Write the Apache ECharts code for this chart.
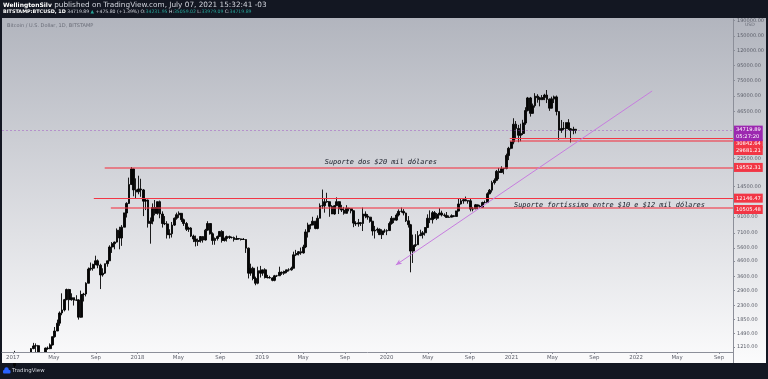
<!DOCTYPE html>
<html><head><meta charset="utf-8">
<script src="https://cdn.jsdelivr.net/npm/echarts@6/dist/echarts.min.js"></script>
<style>html,body{margin:0;padding:0;background:#131722;overflow:hidden}#c{width:768px;height:379px}</style>
</head><body><div id="c"></div>
<script>
// ---- DATA (weekly OHLC, BITSTAMP BTCUSD) ----
const firstWeekCenter = '2017-01-05';
const opens = [
// 2017
1017,908,820,920,915,1010,1000,1055,1180,1230,1235,970,960,1080,1190,1180,1250,1420,1550,1750,2050,2150,2520,2950,2520,2600,2500,2510,1920,2730,2750,3250,4050,4100,4350,4600,4300,3700,3800,4400,4600,5700,6000,6150,7400,6550,7750,9650,11200,15000,19100,13800,
// 2018
13400,14000,13800,11600,11800,8200,8500,10500,9600,11500,9500,8200,8150,6900,7000,8000,8900,9400,9600,8700,8200,7500,7650,6750,6450,6200,6300,6700,6350,7400,8200,7000,6300,6500,6700,7250,6300,6500,6700,6600,6600,6400,6500,6450,6400,6400,5600,3800,4100,3500,3250,3950,3800,
// 2019
4000,3550,3550,3530,3400,3650,3650,3850,3800,3900,4000,4000,4100,5050,5150,5300,5200,5700,7200,8000,8000,8500,7600,8900,10800,10800,11500,11500,10700,9500,10800,11500,10300,10100,9600,10400,10300,10000,8250,8150,8300,8200,9500,9200,9050,8500,7300,7400,7500,6900,7300,7300,
// 2020
7350,8200,8900,8650,9350,9900,9900,9650,8550,8050,5350,5850,5900,6800,6900,7100,7700,8900,8700,9700,8900,9450,9650,9350,9300,9000,9050,9250,9150,9950,11100,11650,11850,11650,11650,10250,10300,10950,10700,10550,11350,11350,13000,13750,15450,16000,18400,18100,19150,19250,23500,26300,
// 2021
29000,38200,35800,32200,33100,38900,47200,57400,45200,50900,59000,57600,55900,57700,60000,56200,49000,56600,58300,46500,34700,35700,35800,39100,35600,34700,35300
];
const highs = [
1140,920,920,930,1030,1070,1060,1190,1290,1280,1250,1110,1110,1200,1220,1280,1420,1650,1850,2100,2780,2550,2990,2980,2780,2600,2700,2540,2900,2800,3300,4150,4480,4400,4980,4700,4400,4100,4400,4600,5850,6150,6200,7600,7800,8000,9700,11400,16700,19666,19200,16500,
17200,16400,14000,12100,11900,9000,11200,11800,11500,11700,9900,9200,8500,7500,8400,9000,9700,9900,9600,8850,8400,7800,7750,6900,6800,6500,6750,6750,7550,8500,8250,7150,6600,6800,7300,7400,6600,6800,6800,6700,6700,6800,6550,6500,6550,6450,5650,4400,4200,3600,4200,4250,4000,
4100,3700,3650,3560,3700,3700,4200,3900,3950,4000,4100,4200,5300,5450,5350,5650,5900,7500,8300,8150,9100,8500,9300,11200,13880,12000,13200,11500,10900,10900,12300,11600,10950,10600,10900,10400,10350,10050,8500,8800,8400,10500,9900,9500,9100,8500,7900,7700,7600,7500,7550,7500,
8450,9200,8950,9600,10200,10500,10250,9700,9200,8150,6900,6950,7300,7450,7300,7750,9450,10050,9950,9950,9650,10400,10000,9600,9800,9300,9450,9300,10000,12000,12100,12100,12450,11750,12100,10600,11100,10950,10950,11500,11700,13300,14000,15900,16500,18800,19400,19900,19400,24200,26900,29300,
41900,40100,37800,38500,40900,49700,58300,58300,52600,61800,60800,58400,60000,61200,64900,57000,58500,59500,59600,46700,40800,39500,39300,41300,36000,36700,35300
];
const lows = [
850,750,810,880,910,940,990,1040,1170,980,960,890,920,1070,1160,1170,1240,1400,1550,1680,1980,2100,2500,2130,2480,2300,2480,1850,1900,2450,2650,3250,3950,3950,4300,4100,2970,3600,3750,4200,4600,5200,5500,6100,5500,5800,7750,9000,11100,15000,12500,12000,
12900,12400,9200,10100,7700,6000,8100,9300,9400,8900,7700,8000,6500,6500,6600,7900,8700,8950,8400,7900,7300,7200,6650,6150,5750,5800,6100,6100,6300,7350,6900,5900,5900,6300,6700,6100,6200,6200,6450,6500,6200,6350,6400,6300,6350,5200,3500,3650,3400,3150,3200,3550,3650,
3500,3500,3500,3350,3350,3580,3650,3700,3700,3800,3900,3950,4100,4950,5000,5050,5150,5600,6600,7500,8000,7500,7500,8900,10300,9700,11300,9100,9500,9400,10800,9500,9800,9400,9600,9900,9600,7750,7900,7800,7900,7300,8900,8700,8300,6800,6500,7100,6900,6450,7100,6850,
7400,8050,8250,8550,9150,9700,9300,8400,7700,3850,4450,5700,5900,6750,6500,6800,7650,8250,8200,8800,8650,9300,9150,9100,9000,8950,9050,9050,9100,9900,11000,11150,11600,11150,9900,9900,10250,10150,10400,10550,11200,11450,12900,13250,15000,15800,16300,18000,17600,19000,21900,25900,
28000,30300,28900,29300,32300,37800,46600,43000,45000,49400,53300,50400,55500,55500,53000,47000,48800,53000,43800,30000,33400,34900,31000,34900,28800,32700,33100
];
const closes = [
908,820,920,915,1010,1000,1055,1180,1230,1235,970,960,1080,1190,1180,1250,1420,1550,1750,2050,2150,2520,2950,2520,2600,2500,2510,1920,2730,2750,3250,4050,4100,4350,4600,4300,3700,3800,4400,4600,5700,6000,6150,7400,6550,7750,9650,11200,15000,19100,13800,13400,
14000,13800,11600,11800,8200,8500,10500,9600,11500,9500,8200,8150,6900,7000,8000,8900,9400,9600,8700,8200,7500,7650,6750,6450,6200,6300,6700,6350,7400,8200,7000,6300,6500,6700,7250,6300,6500,6700,6600,6600,6400,6500,6450,6400,6400,5600,3800,4100,3500,3250,3950,3800,4000,
3550,3550,3530,3400,3650,3650,3850,3800,3900,4000,4000,4100,5050,5150,5300,5200,5700,7200,8000,8000,8500,7600,8900,10800,10800,11500,11500,10700,9500,10800,11500,10300,10100,9600,10400,10300,10000,8250,8150,8300,8200,9500,9200,9050,8500,7300,7400,7500,6900,7300,7300,7350,
8200,8900,8650,9350,9900,9900,9650,8550,8050,5350,5850,5900,6800,6900,7100,7700,8900,8700,9700,8900,9450,9650,9350,9300,9000,9050,9250,9150,9950,11100,11650,11850,11650,11650,10250,10300,10950,10700,10550,11350,11350,13000,13750,15450,16000,18400,18100,19150,19250,23500,26300,29000,
38200,35800,32200,33100,38900,47200,57400,45200,50900,59000,57600,55900,57700,60000,56200,49000,56600,58300,46500,34700,35700,35800,39100,35600,34700,35300,34719.89
];

// axis ticks
const xTickDates  = ['2017-01-01','2017-05-01','2017-09-01','2018-01-01','2018-05-01','2018-09-01','2019-01-01','2019-05-01','2019-09-01','2020-01-01','2020-05-01','2020-09-01','2021-01-01','2021-05-01','2021-09-01','2022-01-01','2022-05-01','2022-09-01'];
const xTickLabels = ['2017','May','Sep','2018','May','Sep','2019','May','Sep','2020','May','Sep','2021','May','Sep','2022','May','Sep'];
const yTickValues = [190000,150000,120000,95000,75000,59000,46500,22500,14500,9100,7100,5600,4600,3600,2900,2300,1850,1490,1210];
const xRange = ['2016-11-30','2022-10-12'];
const yRange = [1120, 195000];

// drawings
const levelPrices = [19552.31, 12146.47, 10505.48, 30842.64, 29681.21];
const levelStarts = ['2017-09-27','2017-08-26','2017-10-15','2020-12-27','2020-12-27'];
const lastPrice = 34719.89;
const countdown = '05:27:20';
const trendDates = ['2020-01-28','2022-02-17'];
const trendPrices = [4312, 63900];
const noteTexts = ['Suporte dos $20 mil dólares','Suporte fortíssimo entre $10 e $12 mil dólares'];
const noteDates = ['2019-12-15','2021-10-15'];
const notePrices = [21300, 10950];

// ---- BUILD ----
const DAY = 86400000;
const t = s => Date.parse(s + 'T00:00:00Z');
const candles = opens.map((o, i) => [t(firstWeekCenter) + i * 7 * DAY, o, closes[i], lows[i], highs[i]]);
const xMin = t(xRange[0]), xMax = t(xRange[1]);
const xTickTimes = xTickDates.map(t);

const levelStyles = [
  {color:'rgba(242,54,69,0.55)', width:2, off:0},
  {color:'#f23645', width:1.2, off:0},
  {color:'rgba(242,54,69,0.55)', width:2, off:2},
  {color:'#f23645', width:1, off:6},
  {color:'rgba(242,54,69,0.55)', width:2, off:10}
];
const tagLabel = (txt, bg, off) => ({show:true, position:'end', distance:1, formatter:txt, color:'#fff', backgroundColor:bg,
  padding:[1.5,2,1,2], fontSize:5.2, fontFamily:'DejaVu Sans', lineHeight:6.5, offset:[0, off]});

const markLines = levelPrices.map((p, i) => ([
  {coord:[t(levelStarts[i]), p], lineStyle:{color:levelStyles[i].color, width:levelStyles[i].width, type:'solid'},
   label: tagLabel(p.toFixed(2), '#f23645', levelStyles[i].off)},
  {coord:[xMax, p]}
]));
markLines.push([
  {coord:[xMin, lastPrice], lineStyle:{color:'rgba(150,60,190,0.4)', width:1, type:[2,2]},
   label: tagLabel(lastPrice.toFixed(2) + '\n' + countdown, '#9c27b0', 3)},
  {coord:[xMax, lastPrice]}
]);
markLines.push([
  {coord:[t(trendDates[0]), trendPrices[0]], symbol:'arrow', symbolSize:[4,6], lineStyle:{color:'#c77ddf', width:1, type:'solid'}, label:{show:false}},
  {coord:[t(trendDates[1]), trendPrices[1]], symbol:'none'}
]);

const chart = echarts.init(document.getElementById('c'), null, {renderer:'canvas'});
chart.setOption({
  animation:false,
  backgroundColor:'#131722',
  grid:{left:2, right:35, top:19, bottom:27},
  xAxis:{type:'value', min:xMin, max:xMax, scale:true, z:10,
    axisLine:{show:true, lineStyle:{color:'#8c8f99', width:1}},
    axisTick:{show:true, customValues:xTickTimes, length:2, lineStyle:{color:'#8c8f99'}},
    axisLabel:{customValues:xTickTimes, fontSize:5.4, color:'#5d606b', fontFamily:'DejaVu Sans', margin:3,
      formatter: v => { const k = xTickTimes.indexOf(v); return k >= 0 ? xTickLabels[k] : ''; }},
    splitLine:{show:false}},
  yAxis:{type:'log', logBase:10, position:'right', min:yRange[0], max:yRange[1], z:10,
    axisLine:{show:true, lineStyle:{color:'#8c8f99', width:1}},
    axisTick:{show:true, customValues:yTickValues, length:2, lineStyle:{color:'#8c8f99'}},
    axisLabel:{customValues:yTickValues, fontSize:5, color:'#5d606b', fontFamily:'DejaVu Sans', margin:4,
      formatter: v => Number(v).toFixed(2)},
    splitLine:{show:false}},
  series:[
    {type:'candlestick', data:candles, barWidth:2.3, clip:true,
     itemStyle:{color:'#050505', color0:'#050505', borderColor:'#050505', borderColor0:'#050505', borderWidth:0.9}},
    {type:'line', data:[], clip:false, silent:true,
     markLine:{silent:true, symbol:['none','none'], animation:false, data:markLines},
     markPoint:{silent:true, symbol:'rect', symbolSize:1, itemStyle:{color:'rgba(0,0,0,0)'},
       data: noteTexts.map((s, i) => ({coord:[t(noteDates[i]), notePrices[i]],
         label:{show:true, position:'inside', formatter:s, color:'#131722', fontStyle:'italic',
           fontFamily:'DejaVu Sans Mono', fontSize:6.9}}))}}
  ],
  graphic:[
    {type:'rect', z:-10, silent:true, shape:{x:2, y:18, width:764, height:345},
     style:{fill:new echarts.graphic.LinearGradient(0,0,0,1,[{offset:0,color:'#b2b5be'},{offset:1,color:'#fbfbfc'}])}},
    {type:'rect', z:5, silent:true, shape:{x:2, y:352.5, width:731, height:10.5}, style:{fill:'#f9f9fa'}},
    {type:'line', z:11, shape:{x1:733.5, y1:352, x2:733.5, y2:363}, style:{stroke:'#8c8f99', lineWidth:1}},
    {type:'text', z:10, x:3, y:1.5, style:{text:'{b|WellingtonSilv} published on TradingView.com, July 07, 2021 15:32:41 -03',
      fill:'#d1d4dc', font:'7.3px "DejaVu Sans"', rich:{b:{fontWeight:'bold', fill:'#ffffff', fontSize:6, fontFamily:'DejaVu Sans'}}}},
    {type:'text', z:10, x:3, y:9.5, style:{text:'{b|BITSTAMP:BTCUSD, 1D} 34719.89 {g|▲} +475.80 (+1.39%) O:{g|34231.95} H:{g|35059.02} L:{g|33979.09} C:{g|34719.89}',
      fill:'#d1d4dc', font:'4.6px "DejaVu Sans"', rich:{b:{fontWeight:'bold', fill:'#ffffff', fontSize:4.9, fontFamily:'DejaVu Sans'}, g:{fill:'#26a69a', fontSize:4.6, fontFamily:'DejaVu Sans'}}}},
    {type:'text', z:10, x:7, y:23, style:{text:'Bitcoin / U.S. Dollar, 1D, BITSTAMP', fill:'#6a6d78', font:'5px "DejaVu Sans"'}},
    {type:'text', z:10, x:745, y:22.5, style:{text:'USD', fill:'#6a6d78', font:'4.6px "DejaVu Sans"'}},
    {type:'circle', z:10, shape:{cx:6.5, cy:369.5, r:2.2}, style:{fill:'#2962ff'}},
    {type:'rect', z:10, shape:{x:3, y:370, width:7.5, height:3.5, r:1}, style:{fill:'#2962ff'}},
    {type:'text', z:10, x:12, y:368.5, style:{text:'TradingView', fill:'#d1d4dc', font:'5.4px "DejaVu Sans"'}}
  ]
});
</script>
</body></html>
